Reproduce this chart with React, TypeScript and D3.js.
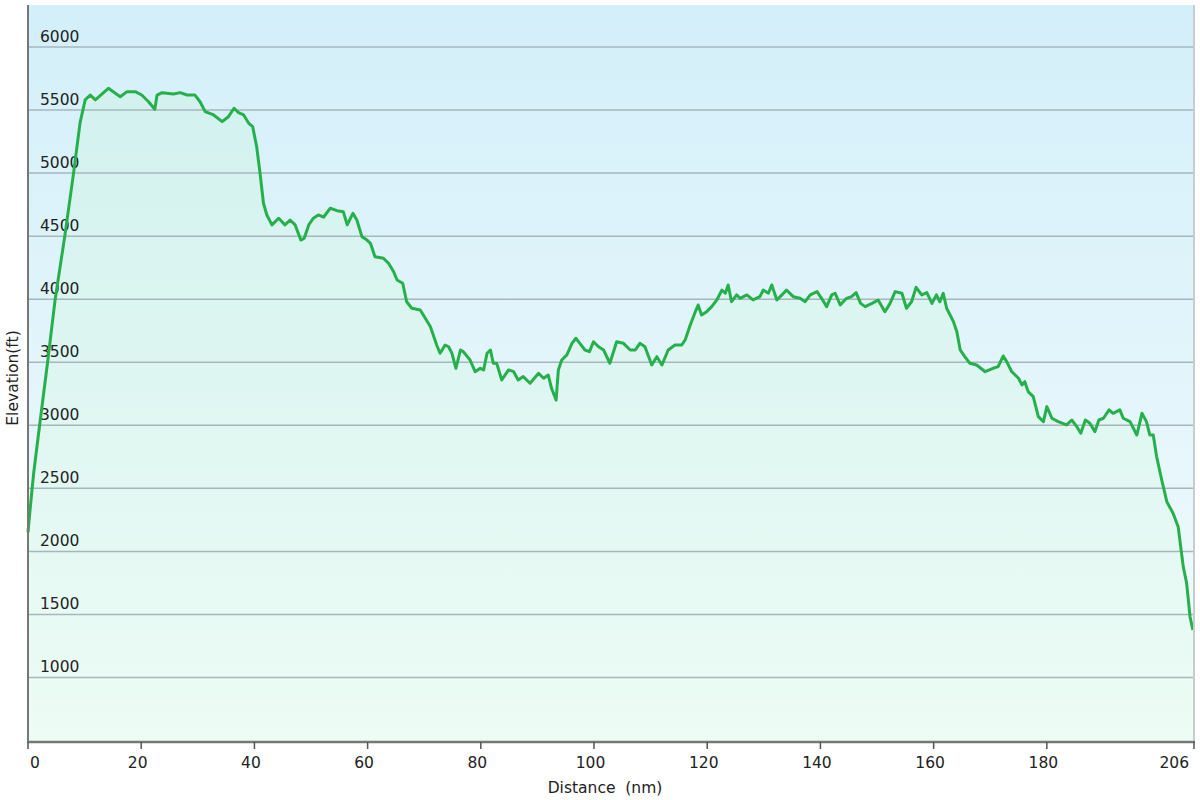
import React from "react";
import * as d3 from "d3";

const distanceNm: number[] = [
  0, 0.3, 1.0, 2.05, 3.46, 4.8, 6.5, 8.05, 9.2, 10.1, 11.0, 11.9, 14.2, 16.3, 17.5, 18.95, 20.1, 21.3, 22.4, 22.8,
  23.7, 25.7, 26.9, 28.1, 29.5, 30.4, 31.3, 32.8, 34.3, 35.4, 36.4, 37.2, 38.1, 39.0, 39.7, 40.4, 41.0, 41.6, 42.2, 43.1,
  44.3, 45.4, 46.3, 47.2, 48.2, 48.8, 49.6, 50.4, 51.3, 52.2, 53.4, 54.6, 55.7, 56.4, 57.4, 58.1, 59.0, 59.9, 60.5, 61.3,
  62.8, 63.7, 64.6, 65.2, 66.2, 66.9, 67.8, 69.3, 71.1, 72.2, 72.8, 73.7, 74.3, 74.9, 75.6, 76.4, 76.9, 78.1, 79.0, 79.9,
  80.5, 81.1, 81.7, 82.2, 82.8, 83.7, 84.9, 85.8, 86.6, 87.5, 88.7, 90.2, 91.1, 91.9, 92.5, 93.3, 93.7, 94.3, 95.2, 96.1,
  96.8, 97.5, 98.4, 99.2, 99.9, 100.8, 101.7, 102.8, 104.0, 105.2, 106.4, 107.3, 108.1, 109.0, 110.2, 111.1, 112.0, 113.1, 114.3, 115.5,
  116.1, 117.0, 117.9, 118.4, 119.0, 119.9, 120.8, 121.7, 122.6, 123.2, 123.7, 124.3, 125.2, 125.8, 127.0, 128.1, 129.3, 129.9, 130.8, 131.4,
  132.3, 133.2, 134.0, 135.2, 136.4, 137.3, 138.2, 139.4, 140.2, 141.1, 142.0, 142.6, 143.5, 144.6, 145.5, 146.3, 147.1, 147.9, 149.1, 150.2,
  151.4, 152.3, 153.2, 154.4, 155.2, 156.1, 156.9, 157.9, 158.8, 159.7, 160.5, 161.1, 161.7, 162.3, 163.5, 164.1, 164.7, 165.5, 166.4, 167.6,
  169.1, 170.5, 171.4, 172.3, 172.9, 173.8, 175.0, 175.6, 176.1, 176.7, 177.6, 178.5, 179.4, 180.0, 180.9, 182.0, 183.5, 184.4, 185.3, 186.0,
  186.8, 187.6, 188.5, 189.2, 190.0, 191.0, 191.7, 192.9, 193.5, 194.7, 195.9, 196.8, 197.6, 198.2, 198.8, 199.4, 200.3, 201.2, 202.3, 203.2,
  204.1, 204.7, 205.3, 205.8,
];

const elevationFt: number[] = [
  2150, 2300, 2620, 3000, 3500, 4000, 4500, 5000, 5400, 5580, 5619, 5580, 5672, 5606, 5646, 5646, 5619, 5566, 5506, 5619,
  5638, 5627, 5638, 5619, 5619, 5566, 5487, 5461, 5408, 5447, 5514, 5480, 5461, 5395, 5368, 5209, 4998, 4761, 4668, 4589,
  4642, 4589, 4628, 4589, 4469, 4483, 4589, 4642, 4668, 4650, 4721, 4702, 4694, 4589, 4681, 4628, 4496, 4469, 4443, 4337,
  4324, 4285, 4218, 4152, 4126, 3980, 3928, 3914, 3782, 3637, 3571, 3637, 3623, 3571, 3452, 3597, 3584, 3518, 3425, 3452,
  3439, 3571, 3597, 3492, 3492, 3359, 3439, 3425, 3359, 3386, 3333, 3412, 3373, 3399, 3293, 3200, 3439, 3518, 3558, 3650,
  3690, 3650, 3597, 3584, 3663, 3623, 3597, 3492, 3663, 3650, 3597, 3597, 3650, 3623, 3478, 3544, 3478, 3597, 3637, 3637,
  3677, 3795, 3901, 3954, 3875, 3901, 3941, 3994, 4073, 4047, 4113, 3980, 4034, 4007, 4034, 3994, 4020, 4073, 4047, 4113,
  3994, 4034, 4073, 4020, 4007, 3980, 4034, 4060, 4007, 3941, 4034, 4047, 3954, 4007, 4020, 4052, 3967, 3941, 3967, 3994,
  3901, 3967, 4060, 4047, 3928, 3980, 4094, 4034, 4052, 3967, 4034, 3980, 4047, 3928, 3822, 3742, 3597, 3544, 3492, 3478,
  3425, 3452, 3465, 3550, 3505, 3425, 3373, 3320, 3346, 3267, 3227, 3069, 3029, 3148, 3056, 3029, 3003, 3042, 2989, 2937,
  3042, 3016, 2950, 3042, 3056, 3122, 3095, 3122, 3056, 3029, 2923, 3095, 3029, 2923, 2923, 2751, 2566, 2394, 2302, 2196,
  1879, 1747, 1482, 1377,
];

const xTickValues: number[] = [0, 20, 40, 60, 80, 100, 120, 140, 160, 180, 206];
const yTickValues: number[] = [1000, 1500, 2000, 2500, 3000, 3500, 4000, 4500, 5000, 5500, 6000];
const xTitle = "Distance\u00a0\u00a0(nm)";
const yTitle = "Elevation(ft)";

const LEFT = 28;
const RIGHT = 1194;
const TOP = 5;
const BOTTOM = 742;
const FONT = "Verdana, 'DejaVu Sans', sans-serif";

export default function App() {
  const x = d3.scaleLinear().domain([0, 206]).range([LEFT, RIGHT]);
  const y = d3.scaleLinear().domain([488.5, 6333]).range([BOTTOM, TOP]);
  const pts: [number, number][] = distanceNm.map((d, i) => [d, elevationFt[i]]);
  const line = d3
    .line<[number, number]>()
    .x((d) => x(d[0]))
    .y((d) => y(d[1]));
  const area = d3
    .area<[number, number]>()
    .x((d) => x(d[0]))
    .y0(BOTTOM)
    .y1((d) => y(d[1]));

  return (
    <svg
      width={1200}
      height={800}
      style={{ position: "absolute", left: 0, top: 0, background: "#fff" }}
    >
      <defs>
        <linearGradient id="bg" x1="0" y1="0" x2="0" y2="1">
          <stop offset="0" stopColor="#d3eff9" />
          <stop offset="1" stopColor="#f3fbfd" />
        </linearGradient>
        <linearGradient id="af" gradientUnits="userSpaceOnUse" x1="0" y1={TOP} x2="0" y2={BOTTOM}>
          <stop offset="0" stopColor="#cff0ee" />
          <stop offset="1" stopColor="#edfcf5" />
        </linearGradient>
      </defs>
      <rect x={LEFT} y={TOP} width={RIGHT - LEFT} height={BOTTOM - TOP} fill="url(#bg)" />
      <path d={area(pts) || ""} fill="url(#af)" />
      {yTickValues.map((v) => (
        <g key={v}>
          <line x1={LEFT} x2={RIGHT} y1={y(v)} y2={y(v)} stroke="#a6b6bc" strokeWidth={1.5} />
          <text x={40} y={y(v) - 5} fontFamily={FONT} fontSize={15.5} fill="#222">
            {v}
          </text>
        </g>
      ))}
      <path d={line(pts) || ""} fill="none" stroke="#25b04b" strokeWidth={3} strokeLinejoin="round" />
      <line x1={RIGHT} x2={RIGHT} y1={TOP} y2={BOTTOM} stroke="#c9cccd" strokeWidth={2} />
      <line x1={LEFT} x2={LEFT} y1={TOP} y2={BOTTOM + 1} stroke="#777" strokeWidth={2} />
      <line x1={LEFT - 1} x2={RIGHT + 1} y1={BOTTOM} y2={BOTTOM} stroke="#777" strokeWidth={2.5} />
      {xTickValues.map((v, i) => {
        const anchor = i === 0 ? "start" : i === xTickValues.length - 1 ? "end" : "middle";
        const tx = i === 0 ? x(v) + 2 : i === xTickValues.length - 1 ? x(v) - 5 : x(v) - 3.5;
        return (
          <g key={v}>
            <line x1={x(v)} x2={x(v)} y1={BOTTOM} y2={BOTTOM + 7} stroke="#555" strokeWidth={1.5} />
            <text x={tx} y={768} textAnchor={anchor} fontFamily={FONT} fontSize={15.5} fill="#222">
              {v}
            </text>
          </g>
        );
      })}
      <text x={605} y={793} textAnchor="middle" fontFamily={FONT} fontSize={15.5} fill="#222">
        {xTitle}
      </text>
      <text
        transform={`translate(18,378) rotate(-90)`}
        textAnchor="middle"
        fontFamily={FONT}
        fontSize={15.5}
        fill="#222"
      >
        {yTitle}
      </text>
    </svg>
  );
}
